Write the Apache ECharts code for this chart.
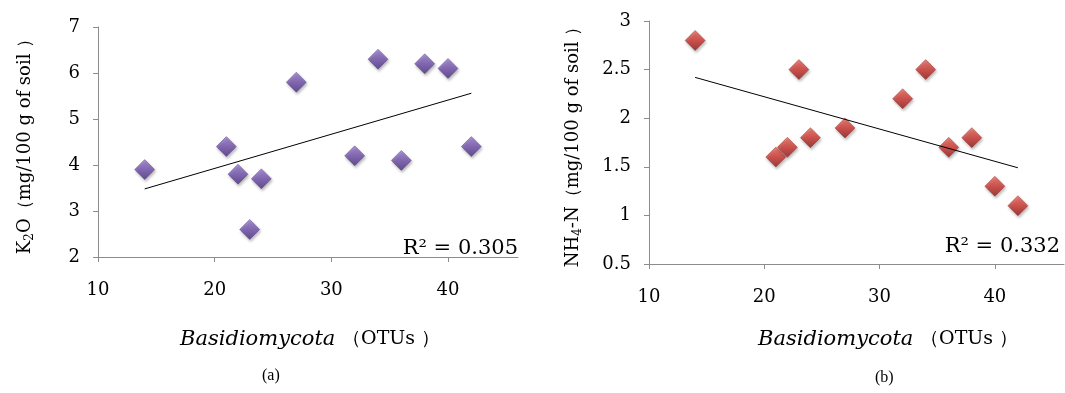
<!DOCTYPE html>
<html>
<head>
<meta charset="utf-8">
<script src="https://cdn.jsdelivr.net/npm/echarts@6/dist/echarts.min.js"></script>
<style>
  html, body { margin: 0; padding: 0; background: #fff; }
  #main { width: 1065px; height: 393px; }
</style>
</head>
<body>
<div id="main"></div>
<script>
// Basidiomycota OTUs (x) shared by both panels
var otus = [14, 21, 22, 23, 24, 27, 32, 34, 36, 38, 40, 42];
// panel (a): K2O, mg/100 g of soil
var k2o = [3.9, 4.4, 3.8, 2.6, 3.7, 5.8, 4.2, 6.3, 4.1, 6.2, 6.1, 4.4];
// panel (b): NH4-N, mg/100 g of soil
var nh4n = [2.8, 1.6, 1.7, 2.5, 1.8, 1.9, 2.2, 2.5, 1.7, 1.8, 1.3, 1.1];
// linear trend end points
var trendX = [14, 42];
var k2oTrendY = [3.48, 5.56];
var nh4nTrendY = [2.42, 1.49];
// tick labels
var xTicks = [10, 20, 30, 40];
var k2oTicks = [2, 3, 4, 5, 6, 7];
var nh4nTicks = [0.5, 1, 1.5, 2, 2.5, 3];
var r2Text = ['R² = 0.305', 'R² = 0.332'];

var serif = '"DejaVu Serif", serif';
var axisGray = '#8c8c8c';

function pairs(xs, ys) {
  return xs.map(function (x, i) { return [x, ys[i]]; });
}

function diamond(light, mid, dark) {
  return {
    color: new echarts.graphic.LinearGradient(0, 0, 0, 1, [
      { offset: 0, color: light },
      { offset: 0.5, color: mid },
      { offset: 1, color: dark }
    ]),
    borderColor: dark,
    borderWidth: 0.5,
    shadowBlur: 3,
    shadowOffsetX: 1,
    shadowOffsetY: 2,
    shadowColor: 'rgba(0,0,0,0.35)'
  };
}

function xAxisOf(idx) {
  return {
    type: 'value', gridIndex: idx, min: 10, max: 46,
    axisLine: { lineStyle: { color: axisGray } },
    axisTick: { show: true, length: 5, customValues: xTicks, lineStyle: { color: axisGray } },
    axisLabel: { customValues: xTicks, margin: 24, color: '#000', fontFamily: serif, fontSize: 18 },
    splitLine: { show: false }
  };
}

function yAxisOf(idx, ticks, nameRich, gap) {
  return {
    type: 'value', gridIndex: idx,
    min: ticks[0], max: ticks[ticks.length - 1], interval: ticks[1] - ticks[0],
    axisLine: { show: true, lineStyle: { color: axisGray } },
    axisTick: { show: true, length: 5, lineStyle: { color: axisGray } },
    axisLabel: { margin: 18, color: '#000', fontFamily: serif, fontSize: 18 },
    splitLine: { show: false },
    name: nameRich,
    nameLocation: 'middle',
    nameGap: gap,
    nameTextStyle: {
      color: '#000', fontFamily: serif, fontSize: 18,
      rich: {
        n: { fontFamily: serif, fontSize: 18, lineHeight: 22, color: '#000' },
        s: { fontFamily: serif, fontSize: 12, lineHeight: 12, verticalAlign: 'bottom', color: '#000' }
      }
    }
  };
}

function xName() {
  return {
    text: '{i|Basidiomycota}  {n|（OTUs ）}',
    rich: {
      i: { fontFamily: serif, fontStyle: 'italic', fontSize: 21, fill: '#000' },
      n: { fontFamily: serif, fontSize: 19, fill: '#000' }
    }
  };
}

var chart = echarts.init(document.getElementById('main'));

var option = {
  animation: false,
  backgroundColor: '#fff',
  grid: [
    { left: 98, top: 27, width: 420, height: 230 },
    { left: 649, top: 21, width: 415, height: 243 }
  ],
  xAxis: [xAxisOf(0), xAxisOf(1)],
  yAxis: [
    yAxisOf(0, k2oTicks, '{n|K}{s|2}{n|O（mg/100 g of soil ）}', 62),
    yAxisOf(1, nh4nTicks, '{n|NH}{s|4}{n|-N（mg/100 g of soil ）}', 65)
  ],
  series: [
    {
      type: 'line', xAxisIndex: 0, yAxisIndex: 0,
      data: pairs(trendX, k2oTrendY), showSymbol: false, symbol: 'none',
      lineStyle: { color: '#000', width: 1 }, silent: true
    },
    {
      type: 'scatter', xAxisIndex: 0, yAxisIndex: 0,
      data: pairs(otus, k2o), symbol: 'diamond', symbolSize: 20,
      itemStyle: diamond('#9a7fd0', '#7352ad', '#4a2f80')
    },
    {
      type: 'line', xAxisIndex: 1, yAxisIndex: 1,
      data: pairs(trendX, nh4nTrendY), showSymbol: false, symbol: 'none',
      lineStyle: { color: '#000', width: 1 }, silent: true
    },
    {
      type: 'scatter', xAxisIndex: 1, yAxisIndex: 1,
      data: pairs(otus, nh4n), symbol: 'diamond', symbolSize: 20,
      itemStyle: diamond('#ec6a5c', '#cf3631', '#8e1a17')
    }
  ],
  graphic: [
    { type: 'text', right: 1065 - 518, top: 238,
      style: { text: r2Text[0], fill: '#000', font: '21px ' + serif } },
    { type: 'text', right: 5, top: 236,
      style: { text: r2Text[1], fill: '#000', font: '21px ' + serif } },
    { type: 'text', left: 180, top: 329, style: xName() },
    { type: 'text', left: 758, top: 329, style: xName() },
    { type: 'text', left: 262, top: 368,
      style: { text: '(a)', fill: '#000', font: '16px "Liberation Serif", serif' } },
    { type: 'text', left: 875, top: 370,
      style: { text: '(b)', fill: '#000', font: '16px "Liberation Serif", serif' } }
  ]
};

chart.setOption(option);
</script>
</body>
</html>
